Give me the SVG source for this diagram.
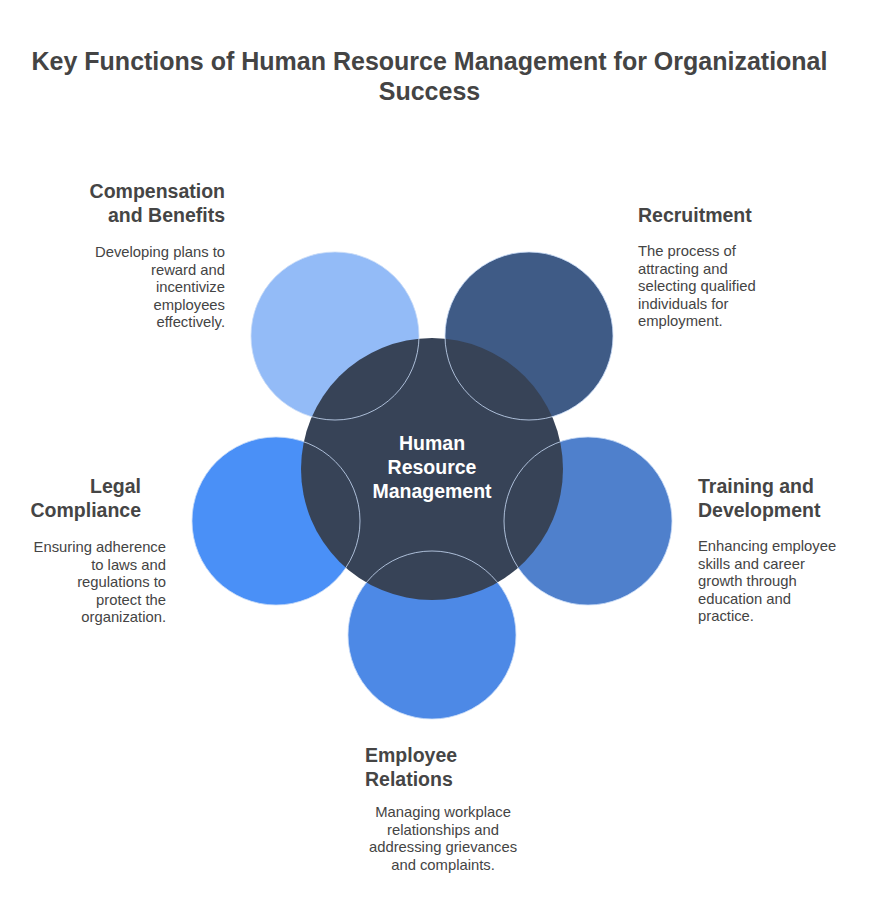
<svg xmlns="http://www.w3.org/2000/svg" width="876" height="912" viewBox="0 0 876 912">
<style>
.title{font-family:"Liberation Sans",Arial,sans-serif;font-weight:bold;font-size:25px;fill:#444;text-anchor:middle}
.h{font-family:"Liberation Sans",Arial,sans-serif;font-weight:bold;font-size:19.5px;fill:#454545}
.b{font-family:"Liberation Sans",Arial,sans-serif;font-size:14.8px;fill:#444}
.c{font-family:"Liberation Sans",Arial,sans-serif;font-weight:bold;font-size:19.5px;fill:#fff;text-anchor:middle}
.r{text-anchor:end}
.m{text-anchor:middle}
.ol{fill:none;stroke:#c9dcf7;stroke-width:1;stroke-opacity:0.8}
</style>
<rect width="876" height="912" fill="#fff"/>
<text class="title" x="429.5" y="70">Key Functions of Human Resource Management for Organizational</text>
<text class="title" x="429.5" y="100">Success</text>

<g id="node-compensation">
<circle cx="335" cy="336" r="84" fill="#93bbf7"/>
<text class="h r" x="225" y="198">Compensation</text>
<text class="h r" x="225" y="222">and Benefits</text>
<text class="b r" x="225" y="257">Developing plans to</text>
<text class="b r" x="225" y="274.6">reward and</text>
<text class="b r" x="225" y="292.2">incentivize</text>
<text class="b r" x="225" y="309.8">employees</text>
<text class="b r" x="225" y="327.4">effectively.</text>
</g>
<g id="node-recruitment">
<circle cx="529" cy="336" r="84" fill="#3f5b86"/>
<text class="h" x="638" y="222">Recruitment</text>
<text class="b" x="638" y="256">The process of</text>
<text class="b" x="638" y="273.6">attracting and</text>
<text class="b" x="638" y="291.2">selecting qualified</text>
<text class="b" x="638" y="308.8">individuals for</text>
<text class="b" x="638" y="326.4">employment.</text>
</g>
<g id="node-legal">
<circle cx="276" cy="521" r="84" fill="#4a90f7"/>
<text class="h r" x="141" y="493">Legal</text>
<text class="h r" x="141" y="517">Compliance</text>
<text class="b r" x="166" y="552">Ensuring adherence</text>
<text class="b r" x="166" y="569.6">to laws and</text>
<text class="b r" x="166" y="587.2">regulations to</text>
<text class="b r" x="166" y="604.8">protect the</text>
<text class="b r" x="166" y="622.4">organization.</text>
</g>
<g id="node-training">
<circle cx="588" cy="521" r="84" fill="#4f80cc"/>
<text class="h" x="698" y="493">Training and</text>
<text class="h" x="698" y="517">Development</text>
<text class="b" x="698" y="551">Enhancing employee</text>
<text class="b" x="698" y="568.6">skills and career</text>
<text class="b" x="698" y="586.2">growth through</text>
<text class="b" x="698" y="603.8">education and</text>
<text class="b" x="698" y="621.4">practice.</text>
</g>
<g id="node-employee">
<circle cx="432" cy="635" r="84" fill="#4d89e6"/>
<text class="h" x="365" y="762">Employee</text>
<text class="h" x="365" y="786">Relations</text>
<text class="b m" x="443" y="817">Managing workplace</text>
<text class="b m" x="443" y="834.6">relationships and</text>
<text class="b m" x="443" y="852.2">addressing grievances</text>
<text class="b m" x="443" y="869.8">and complaints.</text>
</g>
<g id="node-hrm">
<circle cx="432" cy="469" r="131" fill="#374357"/>
<text class="c" x="432" y="450">Human</text>
<text class="c" x="432" y="474">Resource</text>
<text class="c" x="432" y="498">Management</text>
</g>
<g id="connectors">
<circle class="ol" cx="335" cy="336" r="84"/>
<circle class="ol" cx="529" cy="336" r="84"/>
<circle class="ol" cx="276" cy="521" r="84"/>
<circle class="ol" cx="588" cy="521" r="84"/>
<circle class="ol" cx="432" cy="635" r="84"/>
</g>
</svg>
